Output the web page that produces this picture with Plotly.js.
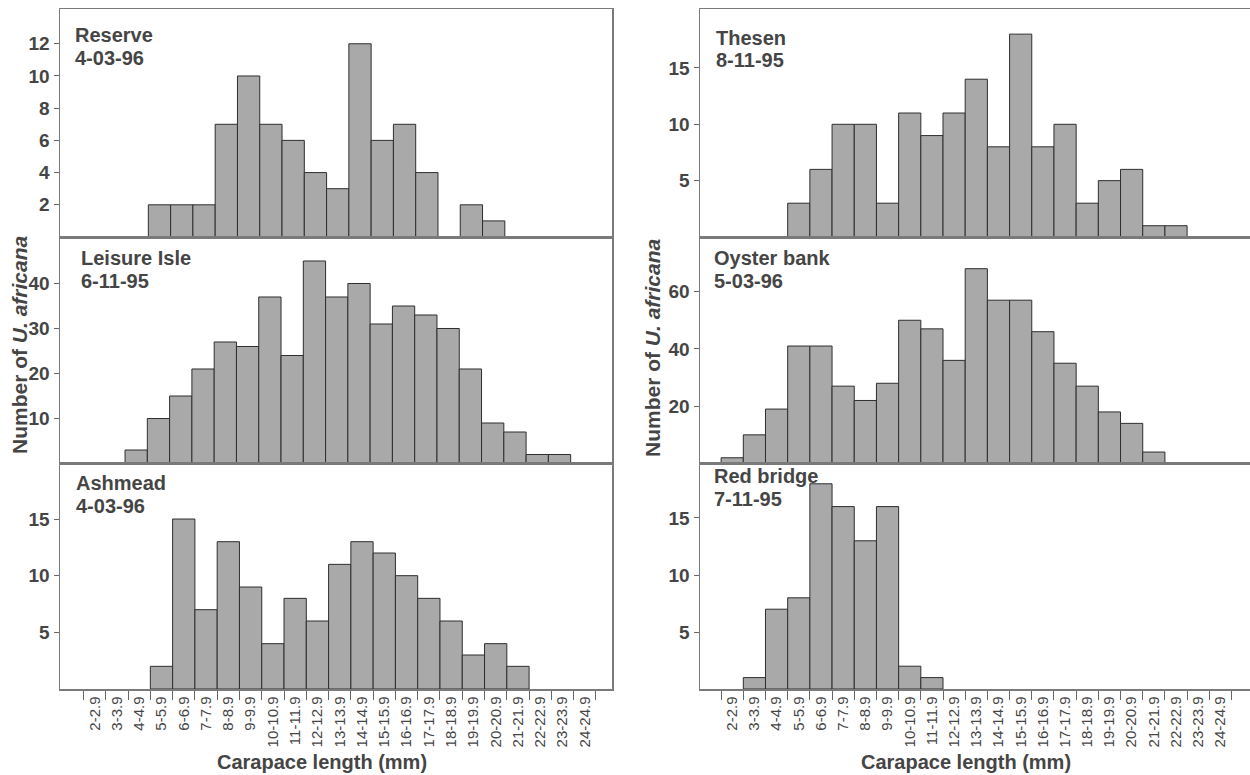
<!DOCTYPE html>
<html><head><meta charset="utf-8">
<script src="https://cdn.plot.ly/plotly-3.0.1.min.js"></script>
<style>html,body{margin:0;padding:0;background:#fff}#chart{width:1250px;height:775px}</style>
</head><body><div id="chart"></div>
<script>
// ---- data ----
const categories = ['2-2.9','3-3.9','4-4.9','5-5.9','6-6.9','7-7.9','8-8.9','9-9.9','10-10.9','11-11.9','12-12.9',
  '13-13.9','14-14.9','15-15.9','16-16.9','17-17.9','18-18.9','19-19.9','20-20.9','21-21.9','22-22.9','23-23.9','24-24.9'];
const reserve    = [null,null,null,2,2,2,7,10,7,6,4,3,12,6,7,4,null,2,1,null,null,null,null];
const leisureIsle= [null,null,3,10,15,21,27,26,37,24,45,37,40,31,35,33,30,21,9,7,2,2,null];
const ashmead    = [null,null,null,2,15,7,13,9,4,8,6,11,13,12,10,8,6,3,4,2,null,null,null];
const thesen     = [null,null,null,3,6,10,10,3,11,9,11,14,8,18,8,10,3,5,6,1,1,null,null];
const oysterBank = [2,10,19,41,41,27,22,28,50,47,36,68,57,57,46,35,27,18,14,4,null,null,null];
const redBridge  = [null,1,7,8,18,16,13,16,2,1,null,null,null,null,null,null,null,null,null,null,null,null,null];
const siteNames = ['Reserve','Leisure Isle','Ashmead','Thesen','Oyster bank','Red bridge'];
const siteDates = ['4-03-96','6-11-95','4-03-96','8-11-95','5-03-96','7-11-95'];
const yTicksReserve = [2,4,6,8,10,12];
const yTicksLeisure = [10,20,30,40];
const yTicksAshmead = [5,10,15];
const yTicksThesen  = [5,10,15];
const yTicksOyster  = [20,40,60];
const yTicksRed     = [5,10,15];
const xTitle = 'Carapace length (mm)';
const yTitle = 'Number of <i>U. africana</i>';

// ---- layout helpers ----
const W = 1250, H = 775;
const px = x => x / W, py = y => 1 - y / H;
const FONT = 'Liberation Sans, Arial, Helvetica, sans-serif';
const TXT = '#454545';
const LINE = '#7a7a7a';

const series = [reserve, leisureIsle, ashmead, thesen, oysterBank, redBridge];
const yticks = [yTicksReserve, yTicksLeisure, yTicksAshmead, yTicksThesen, yTicksOyster, yTicksRed];
const yMax = [14.16, 50.33, 19.9, 20.23, 79.06, 19.78];
const rowsPx = [[9,237],[237,463.5],[463.5,689]];
const colsPx = [[60,612],[700,1250]];
const colCenter0 = [94.64, 732.2];
const colStep = [22.28, 22.19];
const panelShiftPx = [2, 3, 0, 0, 0, 0];
const labelPos = [[74.5,27],[81,250],[76,475],[715.5,29.5],[714,250],[714.5,468]];

const traces = [];
const layout = {
  width: W, height: H,
  margin: {l:0, r:0, t:0, b:0},
  paper_bgcolor: '#fff', plot_bgcolor: '#fff',
  showlegend: false, bargap: 0,
  font: {family: FONT, color: TXT},
  annotations: []
};

for (let k = 0; k < 6; k++) {
  const col = k < 3 ? 0 : 1, row = k % 3;
  const xs = k === 0 ? 'x' : 'x' + (k + 1);
  const ys = k === 0 ? 'y' : 'y' + (k + 1);
  const xk = k === 0 ? 'xaxis' : 'xaxis' + (k + 1);
  const yk = k === 0 ? 'yaxis' : 'yaxis' + (k + 1);
  traces.push({
    type: 'bar', x: categories, y: series[k], xaxis: xs, yaxis: ys,
    marker: {color: '#a9a9a9', line: {color: '#2e2e2e', width: 1}},
    hoverinfo: 'x+y'
  });
  const [x0, x1] = colsPx[col];
  const [y0, y1] = rowsPx[row];
  const c0 = colCenter0[col] - panelShiftPx[k];
  const step = colStep[col];
  const bottom = row === 2;
  layout[xk] = {
    domain: [px(x0), px(x1)], anchor: ys,
    type: 'category', categoryorder: 'array', categoryarray: categories,
    range: [(x0 - c0) / step, (x1 - c0) / step],
    showline: true, linecolor: LINE, linewidth: 1.5, mirror: true,
    showgrid: false, zeroline: false,
    ticks: bottom ? 'outside' : '', tickson: 'boundaries', ticklen: 9, tickcolor: '#666', tickwidth: 1,
    showticklabels: bottom, tickangle: -90,
    tickfont: {family: FONT, size: 15, color: TXT},
    fixedrange: true
  };
  layout[yk] = {
    domain: [py(y1), py(y0)], anchor: xs,
    range: [0, yMax[k]],
    showline: true, linecolor: LINE, linewidth: 1.5, mirror: col === 0,
    showgrid: false, zeroline: false,
    ticks: 'outside', ticklen: 5, tickcolor: '#666', tickwidth: 1,
    tickmode: 'array', tickvals: yticks[k], ticktext: yticks[k].map(String),
    tickfont: {family: FONT, size: 19, color: TXT, weight: 700},
    fixedrange: true
  };
  const [lx, ly] = labelPos[k];
  layout.annotations.push({
    xref: 'paper', yref: 'paper', x: px(lx - 2), y: py(ly - 5), xanchor: 'left', yanchor: 'top',
    text: siteNames[k], showarrow: false, font: {family: FONT, size: 20, color: TXT, weight: 700}
  });
  layout.annotations.push({
    xref: 'paper', yref: 'paper', x: px(lx - 2), y: py(ly + 23 - 5), xanchor: 'left', yanchor: 'top',
    text: siteDates[k], showarrow: false, font: {family: FONT, size: 20, color: TXT, weight: 700}
  });
}

// axis titles
[[322, 762], [966, 762]].forEach(([x, y]) => layout.annotations.push({
  xref: 'paper', yref: 'paper', x: px(x), y: py(y), xanchor: 'center', yanchor: 'middle',
  text: xTitle, showarrow: false, font: {family: FONT, size: 20, color: TXT, weight: 700}
}));
[[19, 345], [652, 347]].forEach(([x, y]) => layout.annotations.push({
  xref: 'paper', yref: 'paper', x: px(x), y: py(y), xanchor: 'center', yanchor: 'middle', textangle: -90,
  text: yTitle, showarrow: false, font: {family: FONT, size: 21, color: TXT, weight: 700}
}));

Plotly.newPlot('chart', traces, layout, {staticPlot: true, displayModeBar: false});
</script>
</body></html>
